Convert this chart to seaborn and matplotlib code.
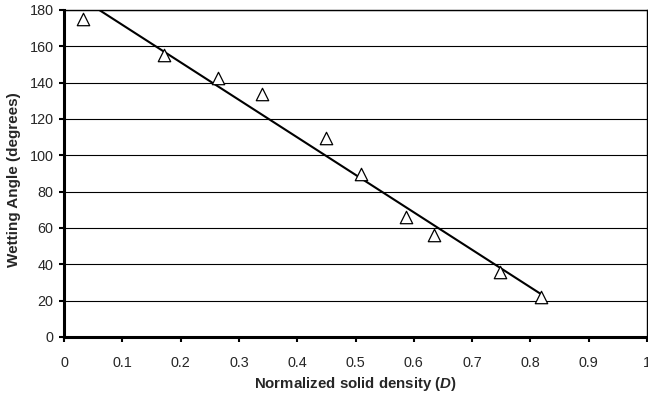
import numpy as np
import pandas as pd
import matplotlib
matplotlib.use("Agg")
import matplotlib.pyplot as plt
import seaborn as sns

# Values
density = [0.033, 0.171, 0.264, 0.339, 0.449, 0.509, 0.587, 0.634, 0.747, 0.818]
wetting_angle = [175, 155, 142.5, 134, 109.5, 89.5, 66, 56, 36, 22]
x_ticks = [0, 0.1, 0.2, 0.3, 0.4, 0.5, 0.6, 0.7, 0.8, 0.9, 1]
x_ticklabels = ["0", "0.1", "0.2", "0.3", "0.4", "0.5", "0.6", "0.7", "0.8", "0.9", "1"]
y_ticks = [0, 20, 40, 60, 80, 100, 120, 140, 160, 180]

df = pd.DataFrame({"D": density, "angle": wetting_angle})

sns.set_style("white")
plt.rcParams["font.family"] = ["Liberation Sans", "DejaVu Sans"]
plt.rcParams["mathtext.fontset"] = "custom"
plt.rcParams["mathtext.it"] = "Liberation Sans:italic:bold"
plt.rcParams["mathtext.rm"] = "Liberation Sans:bold"

fig = plt.figure(figsize=(6.48, 3.97), dpi=100)
ax = fig.add_axes([64 / 648, 60 / 397, 583 / 648, 327 / 397])

# linear trendline over the data range
sns.regplot(data=df, x="D", y="angle", ax=ax, ci=None, truncate=True,
            scatter=False, line_kws={"color": "black", "linewidth": 1.5, "zorder": 3})

sns.scatterplot(data=df, x="D", y="angle", ax=ax, marker="^", s=80,
                facecolor="white", edgecolor="black", linewidth=0.9, zorder=4)

ax.set_xlim(0, 1)
ax.set_ylim(0, 180)
ax.set_xticks(x_ticks)
ax.set_xticklabels(x_ticklabels)
ax.set_yticks(y_ticks)
ax.yaxis.grid(True, color="black", linewidth=0.8)
ax.xaxis.grid(False)
ax.set_axisbelow(True)

for side in ["top", "right"]:
    ax.spines[side].set_visible(True)
    ax.spines[side].set_color("black")
    ax.spines[side].set_linewidth(1.0)
for side in ["left", "bottom"]:
    ax.spines[side].set_color("black")
    ax.spines[side].set_linewidth(2.2)

ax.tick_params(axis="both", direction="out", length=3.5, width=1.5, color="black",
               labelsize=10.4, bottom=True, left=True)
ax.tick_params(axis="x", pad=10)
ax.tick_params(axis="y", pad=4)

ax.set_xlabel("Normalized solid density ($D$)", fontsize=10.8, fontweight="bold", labelpad=4)
ax.set_ylabel("Wetting Angle (degrees)", fontsize=11, fontweight="bold")
ax.yaxis.set_label_coords(-0.074, 0.48)

fig.savefig("out.png", dpi=100)
